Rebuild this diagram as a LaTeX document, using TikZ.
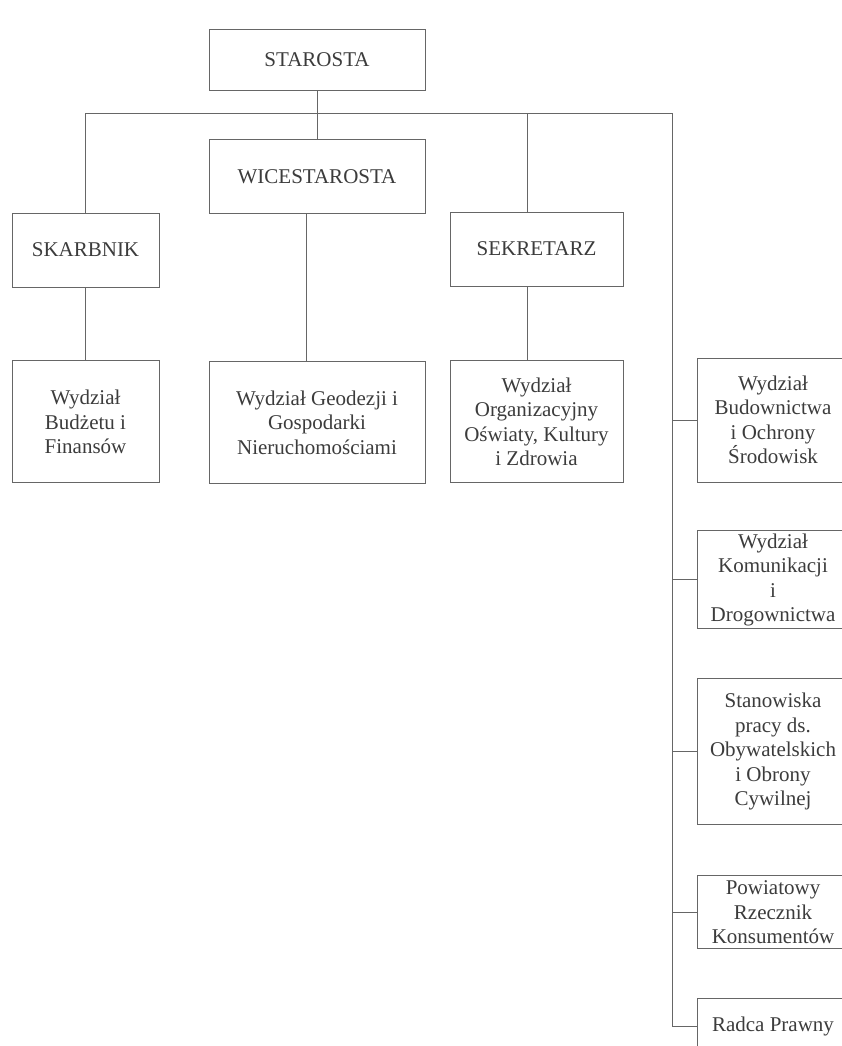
\documentclass[tikz,border=0pt]{standalone}
\usepackage{fontspec}
\setmainfont{Liberation Serif}
\usepackage{xcolor}
\usepackage{tikz}
\usetikzlibrary{positioning}
\definecolor{ink}{HTML}{3C3C3C}
\definecolor{rule}{HTML}{666666}

\begin{document}
\begin{tikzpicture}[
  x=1pt,y=-1pt,
  box/.style={draw=rule,line width=0.9pt,fill=white,text=ink,inner sep=1pt,align=center,
              font=\fontsize{21pt}{24.5pt}\selectfont},
  head/.style={box,minimum height=74pt},
  unit/.style={box,minimum height=122pt},
  side/.style={box,minimum width=152pt},
  link/.style={draw=rule,line width=0.9pt}
]
\clip (0,0) rectangle (842,1046);

\node[head,minimum width=216pt,minimum height=61pt] (staro) at (317,59.5) {STAROSTA};
\node[head,minimum width=216pt,below=49pt of staro] (wice) {WICESTAROSTA};
\node[head,minimum width=147pt] (skarb) at (85.5,250) {SKARBNIK};
\node[head,minimum width=173pt] (sekr) at (536.5,249) {SEKRETARZ};

\node[unit,minimum width=147pt,below=73pt of skarb] (budz) {Wydział\\Budżetu i\\Finansów};
\node[unit,minimum width=216pt,below=147pt of wice] (geod) {Wydział Geodezji i\\Gospodarki\\Nieruchomościami};
\node[unit,minimum width=173pt,below=74pt of sekr] (org) {Wydział\\Organizacyjny\\Oświaty, Kultury\\i Zdrowia};

\node[side,minimum height=124pt] (budow) at (773,420) {Wydział\\Budownictwa\\i Ochrony\\Środowisk};
\node[side,minimum height=98pt,below=48pt of budow] (komun) {Wydział\\Komunikacji\\i\\Drogownictwa};
\node[side,minimum height=146pt,below=49pt of komun] (stan) {Stanowiska\\pracy ds.\\Obywatelskich\\i Obrony\\Cywilnej};
\node[side,minimum height=73pt,below=50pt of stan] (powiat) {Powiatowy\\Rzecznik\\Konsumentów};
\node[side,minimum height=56pt,below=49pt of powiat] (radca) {Radca Prawny};

\coordinate (busR) at (672,113);

\draw[link] (staro)--(wice);
\draw[link] (skarb) |- (busR) |- (radca);
\draw[link] ([xshift=-9.5pt]sekr.north)--([xshift=-9.5pt]sekr.north |- busR);
\draw[link] (skarb)--(budz);
\draw[link] ([xshift=-11pt]wice.south)--([xshift=-11pt]geod.north);
\draw[link] ([xshift=-9.5pt]sekr.south)--([xshift=-9.5pt]org.north);
\foreach \x in {budow,komun,stan,powiat}{\draw[link] (\x.west)--(\x.west -| busR);}
\end{tikzpicture}
\end{document}
